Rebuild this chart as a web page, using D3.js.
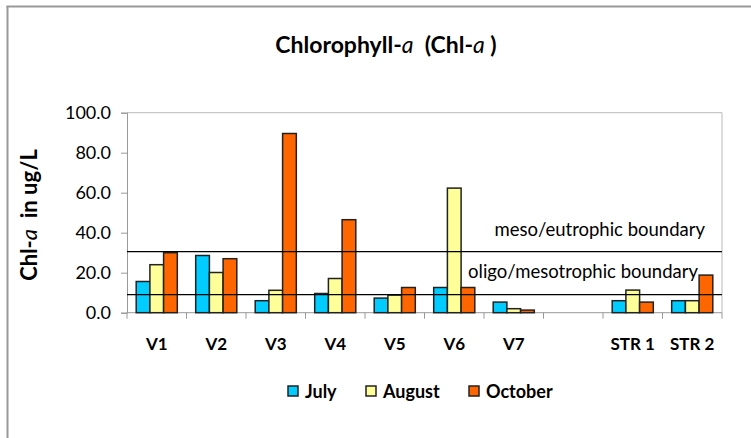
<!DOCTYPE html>
<html>
<head>
<script src="https://d3js.org/d3.v7.min.js"></script>
<style>
  body { margin: 0; background: #fff; }
  text { font-family: Lato, "Open Sans", sans-serif; fill: #000; white-space: pre; }
</style>
</head>
<body>
<svg id="chart" width="751" height="438"></svg>
<script>
// data
const categories = ["V1", "V2", "V3", "V4", "V5", "V6", "V7", "", "STR 1", "STR 2"];
const july    = [15.6, 28.6, 6.0, 9.6, 7.3, 12.6, 5.3, null, 6.0, 6.0];
const august  = [24.0, 20.1, 11.2, 17.1, 8.8, 62.3, 2.0, null, 11.3, 6.0];
const october = [30.0, 27.0, 89.6, 46.5, 12.6, 12.6, 1.3, null, 5.3, 18.8];
const seriesNames = ["July", "August", "October"];
const seriesColors = ["#00ccff", "#ffff99", "#ff6600"];
const yTicks = [0, 20, 40, 60, 80, 100];
const boundaries = [
  { value: 30.5, label: "meso/eutrophic boundary" },
  { value: 9, label: "oligo/mesotrophic boundary" }
];

const allSeries = [july, august, october];
const svg = d3.select("#chart");

// outer frame (only left and top edges visible)
svg.append("line").attr("x1", 7.5).attr("y1", 6).attr("x2", 7.5).attr("y2", 438)
  .attr("stroke", "#999").attr("stroke-width", 2);
svg.append("line").attr("x1", 6.5).attr("y1", 6.5).attr("x2", 751).attr("y2", 6.5)
  .attr("stroke", "#999").attr("stroke-width", 2);

const pLeft = 127, pRight = 722, pTop = 112.7, pBottom = 312.7;

const x = d3.scaleBand().domain(categories.map((c, i) => i)).range([pLeft, pRight]).padding(0);
const y = d3.scaleLinear().domain([0, 100]).range([pBottom, pTop]);
const barW = 13.7;
const groupOffset = (x.bandwidth() - barW * 3) / 2;

// plot area border (top and right)
svg.append("line").attr("x1", pLeft).attr("x2", pRight).attr("y1", pTop).attr("y2", pTop)
  .attr("stroke", "#bbb");
svg.append("line").attr("x1", pRight).attr("x2", pRight).attr("y1", pTop).attr("y2", pBottom)
  .attr("stroke", "#bbb");

// y axis
const yAxis = svg.append("g").attr("transform", `translate(${pLeft},0)`)
  .call(d3.axisLeft(y).tickValues(yTicks).tickFormat(d3.format(".1f")).tickSize(6).tickPadding(10));
yAxis.select(".domain").attr("stroke", "#999");
yAxis.selectAll(".tick line").attr("stroke", "#999");
yAxis.selectAll("text").style("font-size", "18px").attr("fill", "#000");

// x axis with ticks at category boundaries
const xAxis = svg.append("g").attr("transform", `translate(0,${pBottom})`);
xAxis.append("line").attr("x1", pLeft).attr("x2", pRight).attr("stroke", "#999");
const edges = d3.range(categories.length + 1).map(i => pLeft + i * x.step());
xAxis.selectAll(".edge").data(edges).join("line")
  .attr("x1", d => d).attr("x2", d => d).attr("y1", 0).attr("y2", 6).attr("stroke", "#999");
xAxis.selectAll(".lab").data(categories).join("text")
  .attr("x", (d, i) => x(i) + x.bandwidth() / 2)
  .attr("y", 37)
  .attr("text-anchor", "middle")
  .style("font-size", "17px").style("font-weight", "bold")
  .text(d => d);

// bars
allSeries.forEach((vals, s) => {
  svg.append("g").selectAll("rect")
    .data(vals.map((v, i) => ({ v, i })).filter(d => d.v != null))
    .join("rect")
    .attr("x", d => x(d.i) + groupOffset + s * barW)
    .attr("y", d => y(d.v))
    .attr("width", barW)
    .attr("height", d => y(0) - y(d.v))
    .attr("fill", seriesColors[s])
    .attr("stroke", "#222")
    .attr("stroke-width", 1.5);
});

// boundary lines
svg.selectAll(".bline").data(boundaries).join("line")
  .attr("x1", pLeft).attr("x2", pRight)
  .attr("y1", d => y(d.value)).attr("y2", d => y(d.value))
  .attr("stroke", "#000").attr("stroke-width", 1.3);
svg.append("text").attr("x", 705).attr("y", 236).attr("text-anchor", "end")
  .style("font-size", "18.5px").text(boundaries[0].label);
svg.append("text").attr("x", 698).attr("y", 278).attr("text-anchor", "end")
  .style("font-size", "18.5px").text(boundaries[1].label);

// title
const title = svg.append("text").attr("x", 386).attr("y", 53).attr("text-anchor", "middle")
  .style("font-size", "23px").style("font-weight", "bold");
title.append("tspan").text("Chlorophyll-");
title.append("tspan").style("font-style", "italic").style("font-weight", "normal").text("a");
title.append("tspan").text("  (Chl-");
title.append("tspan").style("font-style", "italic").style("font-weight", "normal").text("a");
title.append("tspan").text(" )");

// y axis title
const yl = svg.append("text").attr("transform", "translate(37,215) rotate(-90)")
  .attr("text-anchor", "middle").style("font-size", "22px").style("font-weight", "bold");
yl.append("tspan").text("Chl-");
yl.append("tspan").style("font-style", "italic").style("font-weight", "normal").text("a");
yl.append("tspan").text("  in ug/L");

// legend
const legX = [288, 366, 469];
const leg = svg.append("g");
seriesNames.forEach((n, i) => {
  leg.append("rect").attr("x", legX[i]).attr("y", 386).attr("width", 10).attr("height", 10)
    .attr("fill", seriesColors[i]).attr("stroke", "#222").attr("stroke-width", 1.5);
  leg.append("text").attr("x", legX[i] + 17).attr("y", 398)
    .style("font-size", "18px").style("font-weight", "bold").text(n);
});
</script>
</body>
</html>
